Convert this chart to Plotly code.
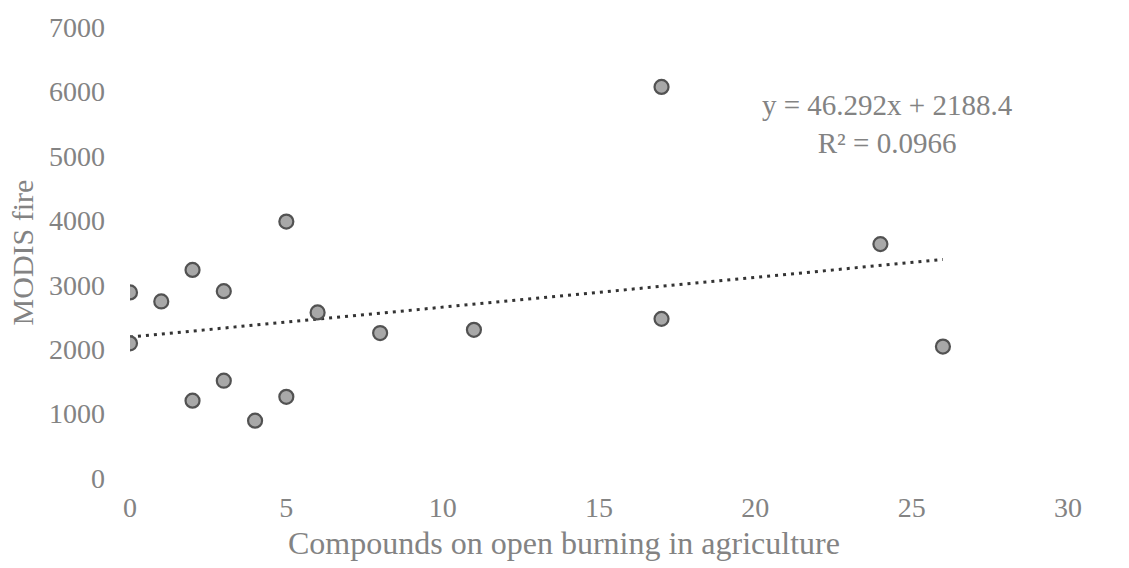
import plotly.graph_objects as go

# Counts of compounds on open burning in agriculture vs. MODIS fire detections
compounds = [0, 0, 1, 2, 2, 3, 3, 4, 5, 5, 6, 8, 11, 17, 17, 24, 26]
modis_fire = [2880, 2090, 2740, 3230, 1200, 2900, 1510, 890, 3980, 1260,
              2570, 2250, 2300, 6070, 2470, 3630, 2040]

# Linear trendline as stated in the equation label
slope = 46.292
intercept = 2188.4
r_squared = 0.0966
trend_x = [min(compounds), max(compounds)]
trend_y = [slope * x + intercept for x in trend_x]

x_ticks = [0, 5, 10, 15, 20, 25, 30]
y_ticks = [0, 1000, 2000, 3000, 4000, 5000, 6000, 7000]

x_title = "Compounds on open burning in agriculture"
y_title = "MODIS fire"

serif = "Liberation Serif, Times New Roman, serif"
label_grey = "#838383"

fig = go.Figure()

fig.add_trace(go.Scatter(
    x=trend_x, y=trend_y, mode="lines",
    line=dict(color="#333333", width=3, dash="3px,5px"),
    hoverinfo="skip", showlegend=False,
))

fig.add_trace(go.Scatter(
    x=compounds, y=modis_fire, mode="markers",
    marker=dict(size=14, color="#a8a8a8",
                line=dict(color="#525252", width=2.2)),
    showlegend=False,
))

# Trendline equation and goodness of fit
fig.add_annotation(
    x=0.808, y=0.786, xref="paper", yref="paper",
    xanchor="center", yanchor="middle",
    text=f"y = {slope}x + {intercept}<br>R² = {r_squared}",
    showarrow=False, align="center",
    font=dict(family=serif, size=29, color=label_grey),
)

# X-axis title, set slightly left of the plot centre
fig.add_annotation(
    x=0.463, y=-0.145, xref="paper", yref="paper",
    xanchor="center", yanchor="middle",
    text=x_title, showarrow=False,
    font=dict(family=serif, size=32, color=label_grey),
)

fig.update_layout(
    width=1129, height=568,
    margin=dict(l=130, r=61, t=27, b=90),
    paper_bgcolor="white", plot_bgcolor="white",
    font=dict(family=serif, color=label_grey),
    xaxis=dict(
        range=[0, 30], tickvals=x_ticks, showgrid=False, zeroline=False,
        showline=False, ticks="", ticklabelstandoff=10,
        tickfont=dict(family=serif, size=28, color=label_grey),
    ),
    yaxis=dict(
        range=[0, 7000], tickvals=y_ticks, showgrid=False, zeroline=False,
        showline=False, ticks="", ticklabelstandoff=24,
        tickfont=dict(family=serif, size=28, color=label_grey),
        title=dict(text=y_title,
                   font=dict(family=serif, size=30, color=label_grey),
                   standoff=6),
    ),
)

fig.write_html("out.html")
